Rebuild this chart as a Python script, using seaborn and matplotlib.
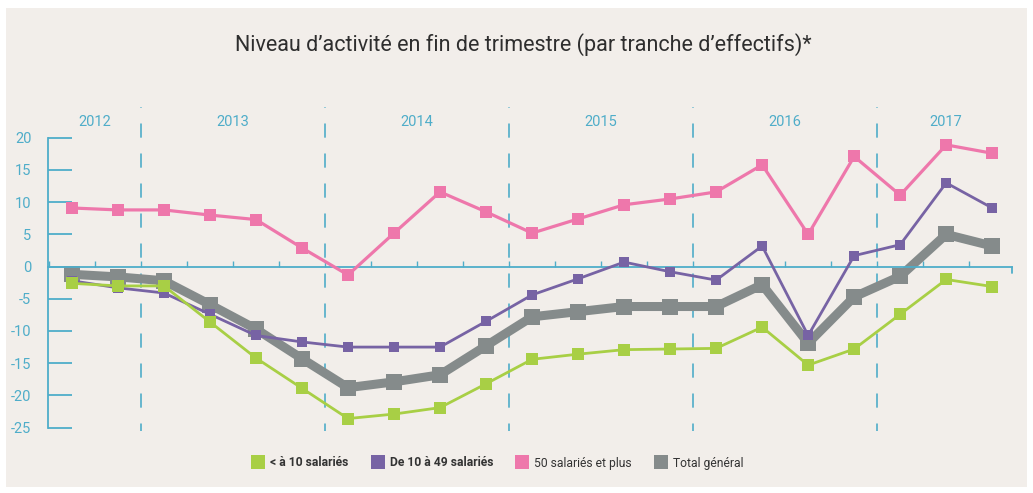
"""Niveau d'activité en fin de trimestre par tranche d'effectifs (2012T3 - 2017T3)."""
import matplotlib
matplotlib.use("Agg")
import matplotlib.pyplot as plt
from matplotlib.lines import Line2D
from matplotlib.patches import Rectangle
import numpy as np
import pandas as pd
import seaborn as sns

# quarters 2012T3 .. 2017T3
quarters = ["2012T3", "2012T4",
            "2013T1", "2013T2", "2013T3", "2013T4",
            "2014T1", "2014T2", "2014T3", "2014T4",
            "2015T1", "2015T2", "2015T3", "2015T4",
            "2016T1", "2016T2", "2016T3", "2016T4",
            "2017T1", "2017T2", "2017T3"]

moins_10 = [-2.6, -3.0, -3.0, -8.6, -14.2, -18.9, -23.6, -22.9, -21.9, -18.2, -14.4,
            -13.6, -12.9, -12.8, -12.7, -9.4, -15.3, -12.8, -7.4, -2.0, -3.1]
de_10_49 = [-2.2, -3.3, -4.1, -7.4, -10.7, -11.7, -12.5, -12.5, -12.5, -8.5, -4.4,
            -1.9, 0.7, -0.8, -2.1, 3.2, -10.7, 1.7, 3.4, 13.0, 9.1]
plus_50 = [9.1, 8.8, 8.8, 8.0, 7.3, 2.9, -1.3, 5.2, 11.6, 8.5, 5.2,
           7.4, 9.6, 10.5, 11.6, 15.8, 5.0, 17.1, 11.1, 18.9, 17.6]
total = [-1.2, -1.6, -2.2, -5.9, -9.7, -14.3, -18.8, -17.9, -16.8, -12.3, -7.8,
         -7.0, -6.2, -6.2, -6.2, -2.8, -11.9, -4.7, -1.5, 5.0, 3.2]

years = ["2012", "2013", "2014", "2015", "2016", "2017"]
year_quarters = [2, 4, 4, 4, 4, 3]

labels = ["< à 10 salariés", "De 10 à 49 salariés", "50 salariés et plus", "Total général"]
colors = ["#a8cf45", "#7763a4", "#ee77ab", "#858b8b"]
teal = "#4fadc9"
bg = "#f2eeea"

sns.set_theme(style="white")
plt.rcParams["font.family"] = ["Roboto", "DejaVu Sans"]
plt.rcParams["axes.unicode_minus"] = False

df = pd.DataFrame({"q": np.arange(len(quarters)), "quarter": quarters,
                   labels[0]: moins_10, labels[1]: de_10_49,
                   labels[2]: plus_50, labels[3]: total})

fig = plt.figure(figsize=(10.33, 4.93), dpi=100, facecolor="white")
fig.patches.append(Rectangle((6 / 1033, 1 - 487 / 493), 1021 / 1033, 479 / 493,
                             transform=fig.transFigure, facecolor=bg,
                             edgecolor="none", zorder=-10))

ax = fig.add_axes([48 / 1033, 1 - 430.8 / 493, 964 / 1033, 325.2 / 493])
ax.set_facecolor("none")

# gray total first (bottom), then purple, green, pink on top
styles = {
    labels[3]: dict(lw=6.5, ms=12, z=2),
    labels[1]: dict(lw=2.0, ms=7.5, z=3),
    labels[0]: dict(lw=2.0, ms=8, z=4),
    labels[2]: dict(lw=2.3, ms=8, z=5),
}
for lab, col in zip(labels, colors):
    st = styles[lab]
    sns.lineplot(data=df, x="q", y=lab, ax=ax, color=col, lw=st["lw"],
                 marker="s", markersize=st["ms"], markeredgewidth=0,
                 zorder=st["z"], legend=False)

ax.set_xlim(-0.52, 20.43)
ax.set_ylim(-25.5, 25)
ax.set_xlabel("")
ax.set_ylabel("")

# axes styling
for s in ["top", "right"]:
    ax.spines[s].set_visible(False)
ax.spines["bottom"].set_position(("data", 0))
ax.spines["bottom"].set_color(teal)
ax.spines["bottom"].set_linewidth(1.3)
ax.spines["left"].set_color(teal)
ax.spines["left"].set_linewidth(1.3)
ax.spines["left"].set_bounds(-25, 20)

ax.set_yticks(range(-25, 21, 5))
ax.set_yticklabels([str(v) for v in range(-25, 21, 5)])
ax.tick_params(axis="y", direction="in", length=17, width=1.3, color=teal,
               labelcolor=teal, labelsize=10.5, pad=12, left=True)
ax.set_xticks(np.arange(-0.5, 20.5, 1.0))
ax.set_xticklabels([])
ax.tick_params(axis="x", direction="in", length=4.5, width=1.0, color=teal, bottom=True)
# small end tick at the right end of the zero line
ax.plot([20.43, 20.43], [0, -1.0], color=teal, lw=1.3, clip_on=False, zorder=1)

# year separators and labels
edges = np.cumsum([0] + year_quarters) - 0.5
for e in edges[1:-1]:
    ax.axvline(e, ymin=0.0, ymax=0.995, color=teal, lw=1.2,
               linestyle=(4, (8.5, 9.5)), zorder=1)
for yr, a, b in zip(years, edges[:-1], edges[1:]):
    ax.text((a + b) / 2, 22.4, yr, ha="center", va="center",
            color=teal, fontsize=10.5)

fig.text(0.507, 1 - 45 / 493, "Niveau d\u2019activité en fin de trimestre (par tranche d\u2019effectifs)*",
         ha="center", va="center", fontsize=15.5, fontweight="normal", color="#2e2e2e")

handles = [Line2D([], [], linestyle="none", marker="s", markersize=10,
                  markerfacecolor=c, markeredgewidth=0) for c in colors]
leg = fig.legend(handles, labels, loc="center", bbox_to_anchor=(0.482, 1 - 463 / 493),
                 ncol=4, frameon=False, fontsize=8.7, handletextpad=0.5,
                 columnspacing=1.9, handlelength=1.0)
for i, t in enumerate(leg.get_texts()):
    t.set_color("#333333")
    if i < 2:
        t.set_fontweight("bold")

fig.savefig("out.png", dpi=100, facecolor="white")
